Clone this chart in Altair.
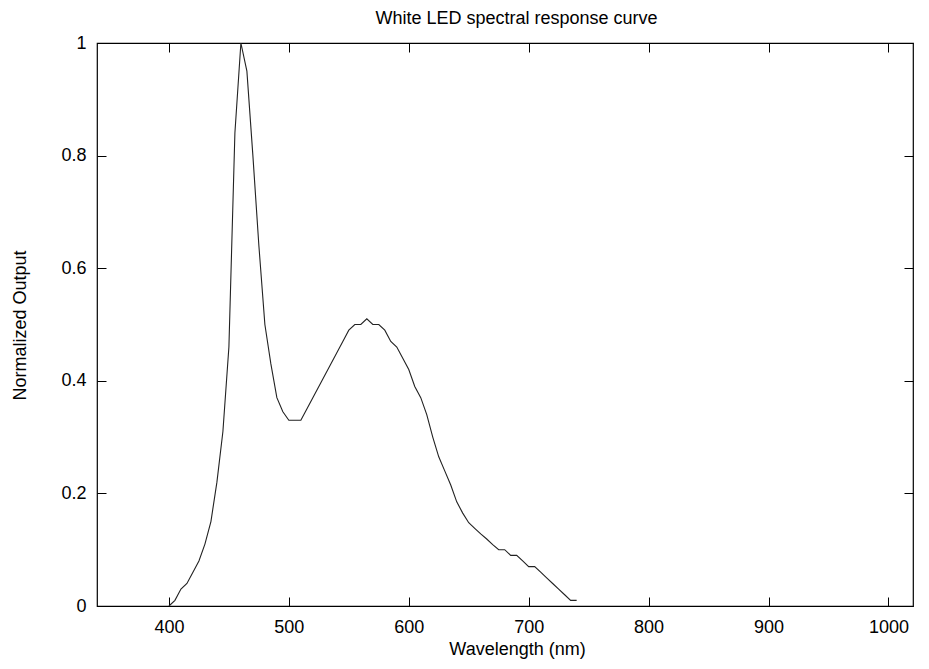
import altair as alt
import pandas as pd

wavelength = [400, 405, 410, 415, 420, 425, 430, 435, 440, 445,
              450, 455, 460, 465, 470, 475, 480, 485, 490, 495,
              500, 505, 510, 515, 520, 525, 530, 535, 540, 545,
              550, 555, 560, 565, 570, 575, 580, 585, 590, 595,
              600, 605, 610, 615, 620, 625, 630, 635, 640, 645,
              650, 655, 660, 665, 670, 675, 680, 685, 690, 695,
              700, 705, 710, 715, 720, 725, 730, 735, 740]
output = [0.00, 0.01, 0.03, 0.04, 0.06, 0.08, 0.11, 0.15, 0.22, 0.31,
          0.46, 0.84, 1.00, 0.95, 0.80, 0.64, 0.50, 0.43, 0.37, 0.345,
          0.33, 0.33, 0.33, 0.35, 0.37, 0.39, 0.41, 0.43, 0.45, 0.47,
          0.49, 0.50, 0.50, 0.51, 0.50, 0.50, 0.49, 0.47, 0.46, 0.44,
          0.42, 0.39, 0.37, 0.34, 0.30, 0.265, 0.24, 0.215, 0.185, 0.165,
          0.148, 0.138, 0.128, 0.119, 0.109, 0.10, 0.10, 0.09, 0.09, 0.08,
          0.07, 0.07, 0.06, 0.05, 0.04, 0.03, 0.02, 0.01, 0.01]

x_ticks = [400, 500, 600, 700, 800, 900, 1000]
y_ticks = [0, 0.2, 0.4, 0.6, 0.8, 1]
chart_title = "White LED spectral response curve"

df = pd.DataFrame({"wavelength": wavelength, "output": output})

FONT = "Liberation Sans"
xs = alt.Scale(domain=[340, 1020.5], nice=False, zero=False)
ys = alt.Scale(domain=[0, 1], nice=False)

base = alt.Chart(df)

main = base.mark_line(color="#222222", strokeWidth=1.1).encode(
    x=alt.X("wavelength:Q", scale=xs,
            axis=alt.Axis(orient="bottom", values=x_ticks, format="d", ticks=False,
                          tickSize=0, domain=False, grid=False, labelPadding=12,
                          labelFlush=False, labelFontSize=18, labelFont=FONT,
                          labelColor="black",
                          title="Wavelength (nm)", titleFontSize=18, titleFont=FONT,
                          titleFontWeight="normal", titleColor="black",
                          titleX=420, titleY=48, titleBaseline="alphabetic",
                          titleAlign="center")),
    y=alt.Y("output:Q", scale=ys,
            axis=alt.Axis(orient="left", values=y_ticks, format="~g", ticks=False,
                          tickSize=0, domain=False, grid=False, labelPadding=11,
                          labelFontSize=18, labelFont=FONT, labelColor="black",
                          title="Normalized Output", titleFontSize=18, titleFont=FONT,
                          titleFontWeight="normal", titleColor="black",
                          titleX=-72, titleY=282, titleAngle=270,
                          titleAlign="center", titleBaseline="alphabetic")),
)

bottom_left = base.mark_line(opacity=0).encode(
    x=alt.X("wavelength:Q", scale=xs,
            axis=alt.Axis(orient="bottom", offset=-9, values=x_ticks, labels=False,
                          domain=False, grid=False, ticks=True, tickSize=9,
                          tickColor="black", tickWidth=1, title="")),
    y=alt.Y("output:Q", scale=ys,
            axis=alt.Axis(orient="left", offset=-9, values=y_ticks, labels=False,
                          domain=False, grid=False, ticks=True, tickSize=9,
                          tickColor="black", tickWidth=1, title="")),
)

top_right = base.mark_line(opacity=0).encode(
    x=alt.X("wavelength:Q", scale=xs,
            axis=alt.Axis(orient="top", offset=-9, values=x_ticks, labels=False,
                          domain=False, grid=False, ticks=True, tickSize=9,
                          tickColor="black", tickWidth=1,
                          title=chart_title, titleFontSize=18, titleFont=FONT,
                          titleFontWeight="normal", titleColor="black",
                          titleX=419, titleY=-29, titleBaseline="alphabetic",
                          titleAlign="center")),
    y=alt.Y("output:Q", scale=ys,
            axis=alt.Axis(orient="right", offset=-9, values=y_ticks, labels=False,
                          domain=False, grid=False, ticks=True, tickSize=9,
                          tickColor="black", tickWidth=1, title="")),
)

chart = alt.layer(
    main, bottom_left, top_right
).resolve_axis(
    x="independent", y="independent"
).properties(
    width=816,
    height=563,
    autosize=alt.AutoSizeParams(type="none"),
    padding={"left": 89, "top": 35, "right": 1, "bottom": 53},
    background="white",
).configure_view(
    stroke="black", strokeWidth=1.2
)

chart.save("out.html", embed_options={"renderer": "svg", "actions": False})
